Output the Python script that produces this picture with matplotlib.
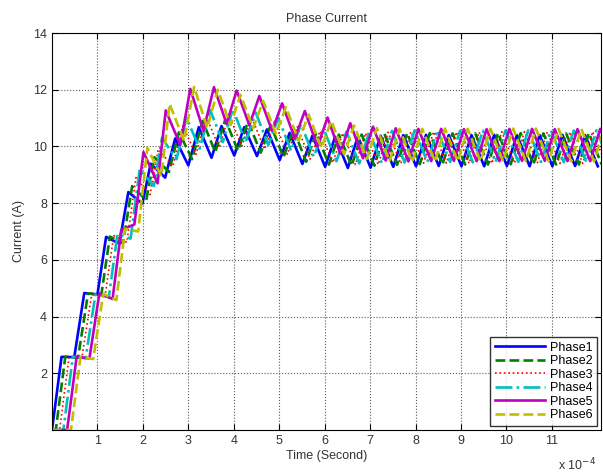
import numpy as np
import matplotlib
matplotlib.use('Agg')
import matplotlib.pyplot as plt

plt.rcParams['font.family'] = ['Liberation Sans', 'DejaVu Sans']

# time of phase-1 valleys / peaks, in units of 1e-4 s
t_trough = [0.00, 0.49, 1.00, 1.48, 1.99, 2.49, 3.00, 3.51, 4.01, 4.51, 5.01, 5.51, 6.01,
            6.51, 7.01, 7.51, 8.01, 8.51, 9.01, 9.51, 10.01, 10.51, 11.01, 11.51, 12.01]
t_peak = [0.21, 0.71, 1.19, 1.68, 2.17, 2.71, 3.23, 3.73, 4.23, 4.73, 5.23, 5.73,
          6.23, 6.73, 7.23, 7.73, 8.23, 8.73, 9.23, 9.73, 10.23, 10.73, 11.23, 11.73]

# interleave delay of each phase (1e-4 s)
phase_delay = [0.0, 0.083, 0.167, 0.25, 0.333, 0.417]

names = ['Phase1', 'Phase2', 'Phase3', 'Phase4', 'Phase5', 'Phase6']

tr1 = [0.00, 2.57, 4.78, 6.57, 7.98, 8.90, 9.33, 9.60, 9.68, 9.66, 9.52, 9.38, 9.28,
       9.24, 9.25, 9.28, 9.30, 9.31, 9.30, 9.30, 9.31, 9.30, 9.30, 9.31, 9.30]
pk1 = [2.58, 4.83, 6.81, 8.39, 9.39, 10.28, 10.68, 10.72, 10.68, 10.60, 10.48, 10.38,
       10.34, 10.35, 10.38, 10.40, 10.41, 10.40, 10.40, 10.41, 10.40, 10.40, 10.41, 10.40]

tr2 = [0.00, 2.55, 4.75, 6.58, 8.10, 9.10, 9.55, 9.80, 9.85, 9.78, 9.62, 9.46, 9.36,
       9.32, 9.32, 9.35, 9.37, 9.37, 9.36, 9.36, 9.37, 9.37, 9.36, 9.36, 9.37]
pk2 = [2.59, 4.82, 6.82, 8.60, 9.62, 10.50, 10.90, 10.95, 10.88, 10.75, 10.60, 10.48,
       10.42, 10.42, 10.45, 10.47, 10.47, 10.46, 10.46, 10.47, 10.47, 10.46, 10.46, 10.47]

tr3 = [0.00, 2.54, 4.72, 6.62, 8.30, 9.30, 9.72, 9.95, 10.00, 9.90, 9.72, 9.54, 9.42,
       9.36, 9.36, 9.39, 9.41, 9.41, 9.40, 9.40, 9.41, 9.41, 9.40, 9.40, 9.41]
pk3 = [2.59, 4.82, 6.85, 8.90, 9.90, 10.72, 11.05, 11.10, 11.02, 10.88, 10.70, 10.54,
       10.47, 10.47, 10.50, 10.52, 10.52, 10.51, 10.51, 10.52, 10.52, 10.51, 10.51, 10.52]

tr4 = [0.00, 2.53, 4.68, 6.75, 8.60, 9.55, 9.92, 10.15, 10.15, 10.05, 9.85, 9.64, 9.48,
       9.40, 9.40, 9.43, 9.45, 9.45, 9.44, 9.44, 9.45, 9.45, 9.44, 9.44, 9.45]
pk4 = [2.59, 4.82, 6.90, 9.20, 10.30, 11.00, 11.28, 11.32, 11.20, 11.00, 10.78, 10.60,
       10.52, 10.52, 10.55, 10.57, 10.57, 10.56, 10.56, 10.57, 10.57, 10.56, 10.56, 10.57]

tr5 = [0.00, 2.52, 4.62, 7.25, 8.70, 10.05, 10.55, 10.80, 10.75, 10.55, 10.28, 10.00, 9.75,
       9.58, 9.50, 9.47, 9.48, 9.49, 9.48, 9.48, 9.49, 9.49, 9.48, 9.48, 9.49]
pk5 = [2.59, 4.82, 7.05, 9.80, 11.27, 12.03, 12.09, 11.97, 11.78, 11.52, 11.25, 11.02,
       10.82, 10.70, 10.64, 10.62, 10.62, 10.61, 10.61, 10.62, 10.62, 10.61, 10.61, 10.62]

tr6 = [0.00, 2.50, 4.58, 7.00, 8.95, 10.20, 10.65, 10.75, 10.65, 10.45, 10.20, 9.95, 9.72,
       9.56, 9.48, 9.46, 9.47, 9.48, 9.47, 9.47, 9.48, 9.48, 9.47, 9.47, 9.48]
pk6 = [2.58, 4.80, 7.10, 9.95, 11.50, 12.10, 12.00, 11.82, 11.60, 11.38, 11.12, 10.90,
       10.74, 10.65, 10.62, 10.62, 10.63, 10.62, 10.62, 10.63, 10.63, 10.62, 10.62, 10.63]

troughs = [tr1, tr2, tr3, tr4, tr5, tr6]
peaks = [pk1, pk2, pk3, pk4, pk5, pk6]

# matlab old colour order / line styles
colors = [(0, 0, 1), (0, 0.5, 0), (1, 0, 0), (0, 0.75, 0.75), (0.75, 0, 0.75), (0.75, 0.75, 0)]
styles = ['-', '--', ':', '-.', '-', '--']
widths = [1.9, 1.9, 1.2, 1.9, 1.9, 1.9]

fig = plt.figure(figsize=(6.03, 4.75), dpi=100)
ax = fig.add_axes([52/603, 45/475, 549/603, 397/475])

for k in range(6):
    d = phase_delay[k]
    xs, ys = [0.0], [0.0]
    for i in range(len(t_peak)):
        xs += [t_trough[i] + d, t_peak[i] + d]
        ys += [troughs[k][i], peaks[k][i]]
    xs.append(t_trough[-1] + d)
    ys.append(troughs[k][-1])
    ax.plot(xs, ys, color=colors[k], ls=styles[k], lw=widths[k], label=names[k])

ax.set_xlim(0, 12.08)
ax.set_ylim(0, 14)
ax.set_xticks(range(1, 12))
ax.set_yticks(range(2, 15, 2))
ax.tick_params(direction='in', top=True, right=True, labelsize=9, length=4, width=0.8,
               labelcolor='0.2')
ax.grid(True, ls=':', color='0.35', lw=0.8)
for s in ax.spines.values():
    s.set_linewidth(0.8)

ax.set_title('Phase Current', fontsize=9, pad=8, color='0.2')
ax.set_xlabel('Time (Second)', fontsize=9, labelpad=2, color='0.2')
ax.set_ylabel('Current (A)', fontsize=9, labelpad=6, color='0.2')
fig.text(558/603, 1 - 465/475, r'x 10$^{-4}$', fontsize=9, va='center', color='0.2')

ax.legend(loc='lower right', fontsize=9, handlelength=4.0, handletextpad=0.4,
          frameon=True, fancybox=False, edgecolor='black', borderaxespad=0.35,
          labelspacing=0.12, borderpad=0.35)

fig.savefig('out.png', dpi=100)
